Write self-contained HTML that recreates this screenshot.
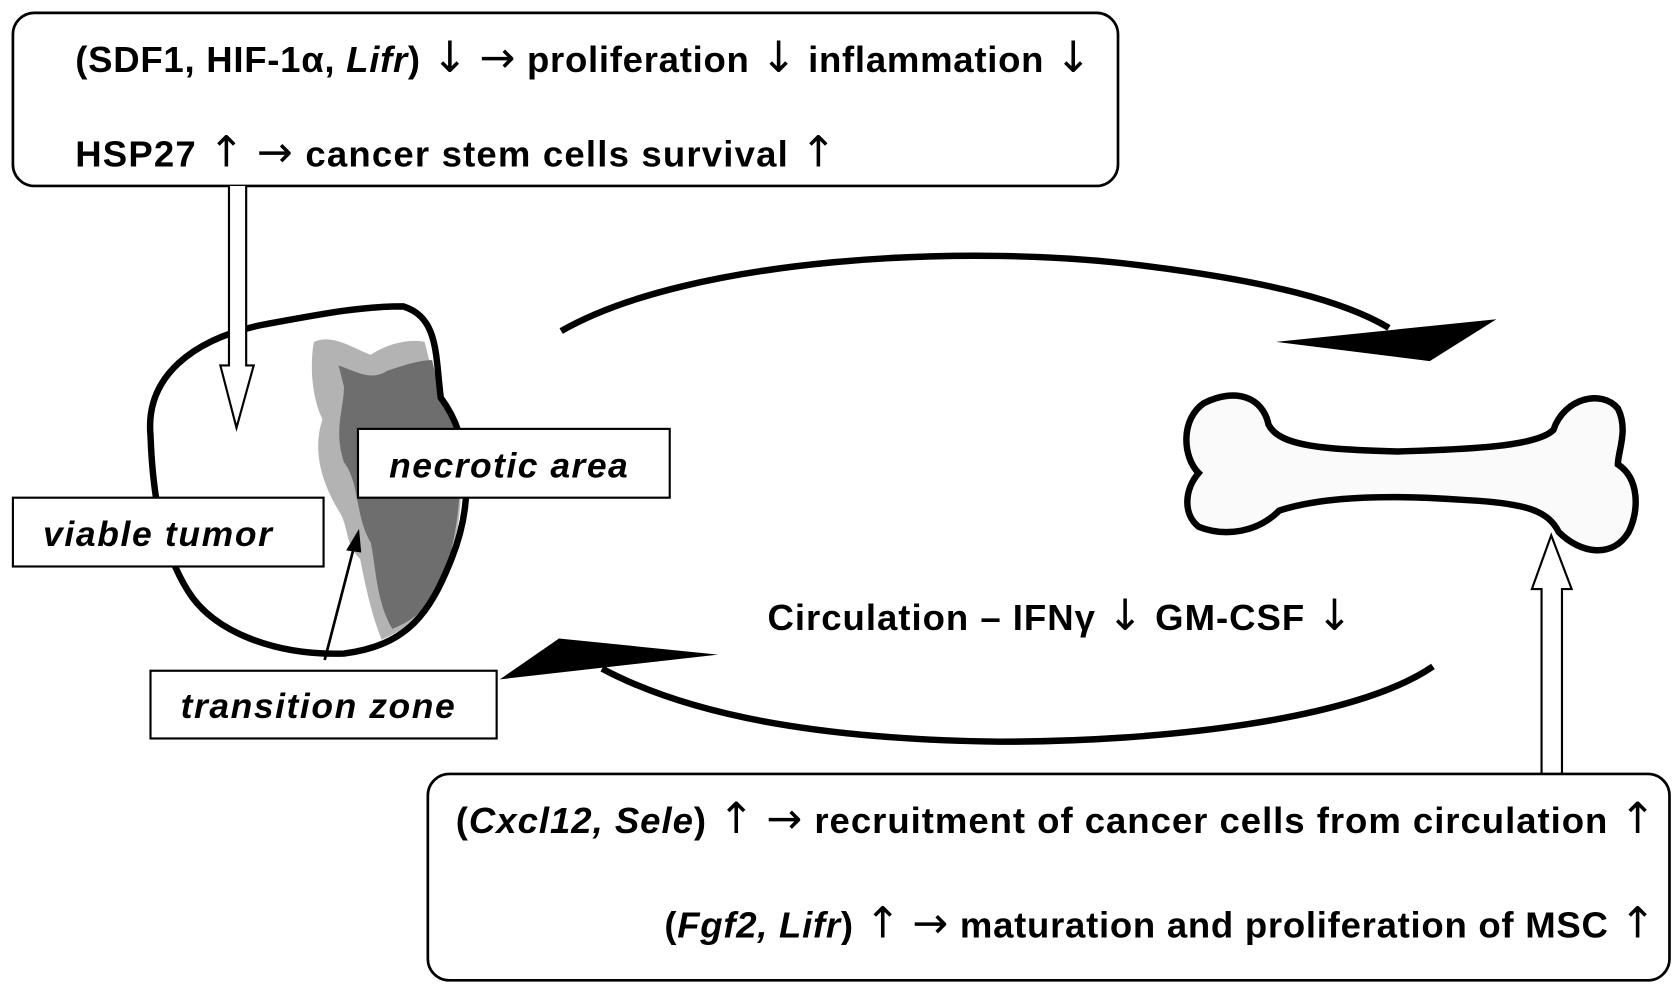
<!DOCTYPE html>
<html><head><meta charset="utf-8"><style>
html,body{margin:0;padding:0;background:#fff;}
svg{display:block;}
text{font-family:"Liberation Sans",Arial,sans-serif;font-weight:bold;fill:#000;}
.a{font-weight:normal;font-size:40px;font-family:"DejaVu Sans",sans-serif;}
</style></head><body>
<svg width="1677" height="990" viewBox="0 0 1560 921" preserveAspectRatio="none" xmlns="http://www.w3.org/2000/svg">
<rect width="1560" height="921" fill="#fff"/>
<!-- top box -->
<rect x="12" y="12" width="1028" height="161" rx="20" fill="#fff" stroke="#000" stroke-width="2.5"/>
<text x="70" y="67" font-size="34" textLength="945" lengthAdjust="spacing">(SDF1, HIF-1α, <tspan font-style="italic">Lifr</tspan>) <tspan class="a">↓</tspan>  <tspan class="a">→</tspan>  proliferation <tspan class="a">↓</tspan> inflammation <tspan class="a">↓</tspan></text>
<text x="70" y="155" font-size="34" textLength="708" lengthAdjust="spacing">HSP27 <tspan class="a">↑</tspan>   <tspan class="a">→</tspan>   cancer stem cells survival <tspan class="a">↑</tspan></text>
<!-- tumor -->
<path d="M140,405 C135,350 180,315 245,302 C300,292 335,285 375,285 C408,295 405,330 410,370 C440,410 440,470 420,520 C400,570 380,600 320,608 C260,610 200,590 175,550 C150,510 142,460 140,405 Z" fill="#fff"/>
<path d="M292,318 C310,310 330,325 345,330 C360,320 380,315 395,318 L408,370 C435,410 432,470 420,520 C405,560 390,580 355,595 C345,570 340,545 335,520 C320,505 325,490 315,475 C300,450 290,420 300,390 C290,370 288,340 292,318 Z" fill="#b3b3b3"/>
<path d="M315,340 C330,345 345,355 360,345 C375,340 390,335 402,335 L410,370 C435,410 430,470 418,520 C405,560 390,575 365,585 C350,560 350,530 345,505 C330,480 335,450 320,430 C310,400 320,380 320,360 Z" fill="#6e6e6e"/>
<path d="M140,405 C135,350 180,315 245,302 C300,292 335,285 375,285 C408,295 405,330 410,370 C440,410 440,470 420,520 C400,570 380,600 320,608 C260,610 200,590 175,550 C150,510 142,460 140,405 Z" fill="none" stroke="#000" stroke-width="6"/>
<!-- top double arrow -->
<path d="M213,173 V340 H205 L220,398 L236,340 H229 V173" fill="#fff" stroke="#000" stroke-width="2"/>
<!-- labels -->
<rect x="333" y="399" width="290" height="64" fill="#fff" stroke="#000" stroke-width="2"/>
<text x="362" y="444" font-size="33" font-style="italic" textLength="222" lengthAdjust="spacing">necrotic area</text>
<rect x="12" y="463" width="289" height="64" fill="#fff" stroke="#000" stroke-width="2"/>
<text x="40" y="508" font-size="33" font-style="italic" textLength="213" lengthAdjust="spacing">viable tumor</text>
<rect x="140" y="624" width="322" height="63" fill="#fff" stroke="#000" stroke-width="2"/>
<text x="168" y="668" font-size="33" font-style="italic" textLength="255" lengthAdjust="spacing">transition zone</text>
<line x1="302" y1="614" x2="329" y2="510" stroke="#000" stroke-width="2.5"/>
<polygon points="334,492 322,512 336,514" fill="#000"/>
<!-- top curved arrow -->
<path d="M522,308 C640,240 900,225 1070,248 C1180,262 1250,280 1292,305" fill="none" stroke="#000" stroke-width="6"/>
<polygon points="1187,318 1392,297 1330,336" fill="#000"/>
<!-- bottom curved arrow -->
<path d="M1333,620 C1260,670 1080,690 930,690 C780,688 650,670 560,622" fill="none" stroke="#000" stroke-width="6"/>
<polygon points="465,632 520,594 668,609" fill="#000"/>
<text x="714" y="586" font-size="34" textLength="544" lengthAdjust="spacing">Circulation – IFNγ <tspan class="a">↓</tspan>  GM-CSF <tspan class="a">↓</tspan></text>
<!-- bone -->
<path d="M1120,375 C1150,360 1175,370 1180,395 C1190,415 1230,418 1300,420 C1370,418 1430,415 1445,400 C1455,370 1490,362 1505,380 C1515,400 1505,420 1505,432 C1525,445 1525,475 1515,495 C1500,520 1470,515 1450,495 C1440,475 1420,468 1360,465 C1290,460 1230,462 1190,475 C1170,495 1140,500 1115,490 C1100,478 1102,455 1115,440 C1100,425 1098,390 1120,375 Z" fill="#fafafa" stroke="#000" stroke-width="6"/>
<!-- bottom double arrow -->
<path d="M1434,720 V548 H1425 L1443,498 L1462,548 H1453 V720" fill="#fff" stroke="#000" stroke-width="2"/>
<!-- bottom box -->
<rect x="398" y="720" width="1155" height="192" rx="20" fill="#fff" stroke="#000" stroke-width="2.5"/>
<text x="424" y="775" font-size="34" textLength="1116" lengthAdjust="spacing">(<tspan font-style="italic">Cxcl12, Sele</tspan>) <tspan class="a">↑</tspan>  <tspan class="a">→</tspan>  recruitment of cancer cells from circulation <tspan class="a">↑</tspan></text>
<text x="618" y="872" font-size="34" textLength="922" lengthAdjust="spacing">(<tspan font-style="italic">Fgf2, Lifr</tspan>) <tspan class="a">↑</tspan> <tspan class="a">→</tspan>  maturation and proliferation of MSC <tspan class="a">↑</tspan></text>
</svg>
</body></html>
